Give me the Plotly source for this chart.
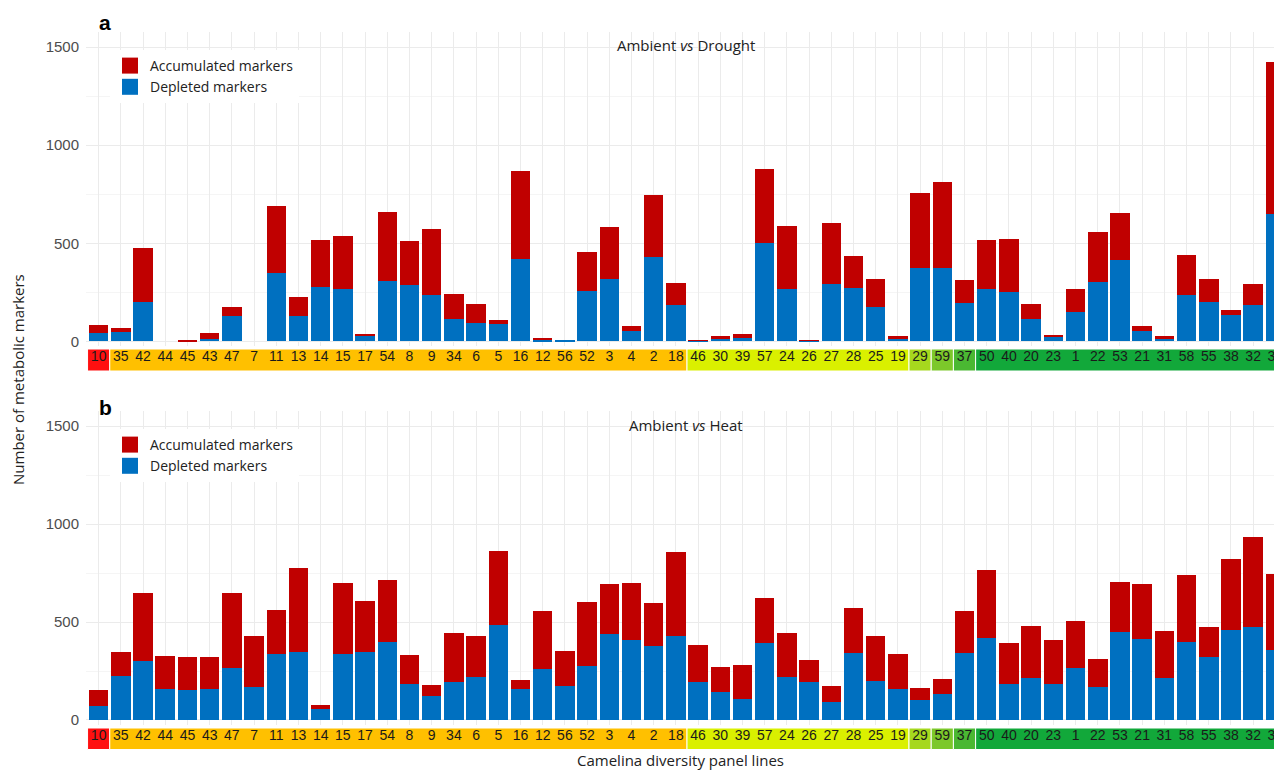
import plotly.graph_objects as go

# ---------------- data ----------------
lines = ["10", "35", "42", "44", "45", "43", "47", "7", "11", "13", "14", "15", "17", "54",
         "8", "9", "34", "6", "5", "16", "12", "56", "52", "3", "4", "2", "18",
         "46", "30", "39", "57", "24", "26", "27", "28", "25", "19",
         "29", "59", "37",
         "50", "40", "20", "23", "1", "22", "53", "21", "31", "58", "55", "38", "32", "33"]

# group index of each line (colour of label strip)
line_groups = [0,
               1, 1, 1, 1, 1, 1, 1, 1, 1, 1, 1, 1, 1, 1, 1, 1, 1, 1, 1, 1, 1, 1, 1, 1, 1, 1,
               2, 2, 2, 2, 2, 2, 2, 2, 2, 2,
               3, 4, 5,
               6, 6, 6, 6, 6, 6, 6, 6, 6, 6, 6, 6, 6, 6]
group_colors = ["#FF1010", "#FFC000", "#DAF000", "#A6D81E", "#7CC82A", "#4AB832", "#12A83A"]

drought_depleted = [42, 48, 202, 0, 0, 14, 131, 0, 347, 128, 279, 269, 29, 310, 289, 235, 117, 92,
                    87, 418, 10, 4, 255, 320, 56, 430, 185, 3, 14, 17, 503, 269, 5, 293, 272, 177,
                    17, 376, 372, 197, 265, 252, 114, 24, 148, 303, 413, 54, 15, 235, 201, 134, 187, 648]
drought_accumulated = [40, 23, 274, 0, 3, 27, 46, 0, 345, 100, 238, 267, 10, 348, 225, 338, 124, 97,
                       25, 451, 10, 0, 202, 263, 24, 317, 114, 1, 13, 22, 378, 321, 2, 312, 165, 141,
                       10, 379, 443, 118, 254, 272, 78, 10, 119, 253, 243, 24, 12, 204, 117, 29, 104, 777]

heat_depleted = [71, 224, 300, 158, 151, 158, 266, 166, 336, 349, 54, 339, 349, 400, 185, 125, 193, 220,
                 485, 156, 258, 171, 278, 437, 410, 378, 429, 192, 141, 105, 395, 219, 192, 90, 344, 197,
                 156, 100, 134, 344, 419, 183, 215, 185, 266, 169, 451, 414, 215, 400, 319, 459, 476, 356]
heat_accumulated = [80, 122, 346, 169, 169, 161, 380, 265, 223, 427, 21, 359, 258, 314, 147, 53, 249, 207,
                    376, 49, 296, 180, 324, 258, 288, 220, 429, 191, 132, 175, 230, 225, 115, 83, 229, 234,
                    183, 64, 73, 212, 347, 209, 263, 223, 239, 141, 252, 279, 238, 342, 157, 365, 456, 391]

y_ticks = [0, 500, 1000, 1500]
y_minor = [250, 750, 1250]

RED = "#C00000"
BLUE = "#0070C0"

# ---------------- geometry helpers (page has an 8px body margin) ----------------
OFF = 8
W, H = 1282 - OFF, 771 - OFF
L = 86 - OFF
PW = W - L


def py(px):
    return 1 - (px - OFF) / H


def pxx(px):
    return (px - 86) / PW


# ---------------- figure ----------------
fig = go.Figure()

panels = [
    ("x", "y", "legend", drought_depleted, drought_accumulated),
    ("x2", "y2", "legend2", heat_depleted, heat_accumulated),
]
for xa, ya, lg, dep, acc in panels:
    fig.add_trace(go.Bar(x=lines, y=dep, name="Depleted markers", marker=dict(color=BLUE, line=dict(width=0)),
                         xaxis=xa, yaxis=ya, showlegend=False))
    fig.add_trace(go.Bar(x=lines, y=acc, name="Accumulated markers", marker=dict(color=RED, line=dict(width=0)),
                         xaxis=xa, yaxis=ya, showlegend=False))
    # legend entries with larger square swatches
    fig.add_trace(go.Scatter(x=[None], y=[None], mode="markers", name="Depleted markers",
                             marker=dict(symbol="square", size=16, color=BLUE, line=dict(width=0)),
                             xaxis=xa, yaxis=ya, legend=lg, hoverinfo="skip"))
    fig.add_trace(go.Scatter(x=[None], y=[None], mode="markers", name="Accumulated markers",
                             marker=dict(symbol="square", size=16, color=RED, line=dict(width=0)),
                             xaxis=xa, yaxis=ya, legend=lg, hoverinfo="skip"))

GRID = "#EBEBEB"
xcommon = dict(type="category", categoryorder="array", categoryarray=lines,
               range=[-0.57, 53.3], showgrid=True, gridcolor=GRID, gridwidth=1.2,
               tickmode="array", tickvals=lines, ticktext=lines, tickangle=0,
               ticks="", showline=False, zeroline=False, automargin=False,
               tickfont=dict(family="Liberation Sans, Arial, sans-serif", size=14, color="#1A1A1A"))
ycommon = dict(range=[-23, 1577], tickvals=y_ticks, showgrid=True, gridcolor=GRID, gridwidth=1.2,
               minor=dict(tickvals=y_minor, showgrid=True, gridcolor="#F5F5F5", gridwidth=1),
               zeroline=False, showline=False, ticks="", automargin=False, ticklabelstandoff=6,
               tickfont=dict(family="Liberation Sans, Arial, sans-serif", size=15, color="#4D4D4D"))

legend_common = dict(xanchor="left", yanchor="top", bgcolor="white", traceorder="reversed",
                     tracegroupgap=0, itemsizing="trace",
                     font=dict(family="Open Sans, sans-serif", size=14, color="#222222"))

fig.update_layout(
    width=W, height=H,
    margin=dict(l=L, r=0, t=0, b=0),
    paper_bgcolor="white", plot_bgcolor="white",
    barmode="stack", bargap=0.12,
    xaxis=dict(domain=[0, 1], anchor="y", **xcommon),
    yaxis=dict(domain=[py(346), py(32)], anchor="x", **ycommon),
    xaxis2=dict(domain=[0, 1], anchor="y2", **xcommon),
    yaxis2=dict(domain=[py(724.5), py(411)], anchor="x2", **ycommon),
    legend=dict(x=pxx(110), y=py(50), **legend_common),
    legend2=dict(x=pxx(110), y=py(429), **legend_common),
    showlegend=True,
)

# coloured label strips under each panel
strips = [("x", py(371), py(349)), ("x2", py(749.5), py(728))]
shapes = []
for xref, y0, y1 in strips:
    start = 0
    for i in range(1, len(lines) + 1):
        if i == len(lines) or line_groups[i] != line_groups[start]:
            shapes.append(dict(type="rect", xref=xref, yref="paper", x0=start - 0.5, x1=i - 1 + 0.5,
                               y0=y0, y1=y1, fillcolor=group_colors[line_groups[start]],
                               line=dict(color="white", width=1), layer="below"))
            start = i
fig.update_layout(shapes=shapes)

txt = dict(family="Open Sans, sans-serif", size=15, color="#222222")
letter = dict(family="Liberation Sans, Arial, sans-serif", size=21, color="black")
annotations = [
    dict(text="<b>a</b>", x=pxx(105), y=py(22), font=letter),
    dict(text="<b>b</b>", x=pxx(105), y=py(407), font=letter),
    dict(text="Ambient <i>vs</i> Drought", x=pxx(686), y=py(45), font=txt),
    dict(text="Ambient <i>vs</i> Heat", x=pxx(686), y=py(425), font=txt),
    dict(text="Number of metabolic markers", x=pxx(18), y=py(380), textangle=-90, font=txt),
    dict(text="Camelina diversity panel lines", x=pxx(680), y=py(760), font=txt),
]
for a in annotations:
    a.update(xref="paper", yref="paper", showarrow=False, xanchor="center", yanchor="middle")
fig.update_layout(annotations=annotations)

fig.write_html("out.html")
